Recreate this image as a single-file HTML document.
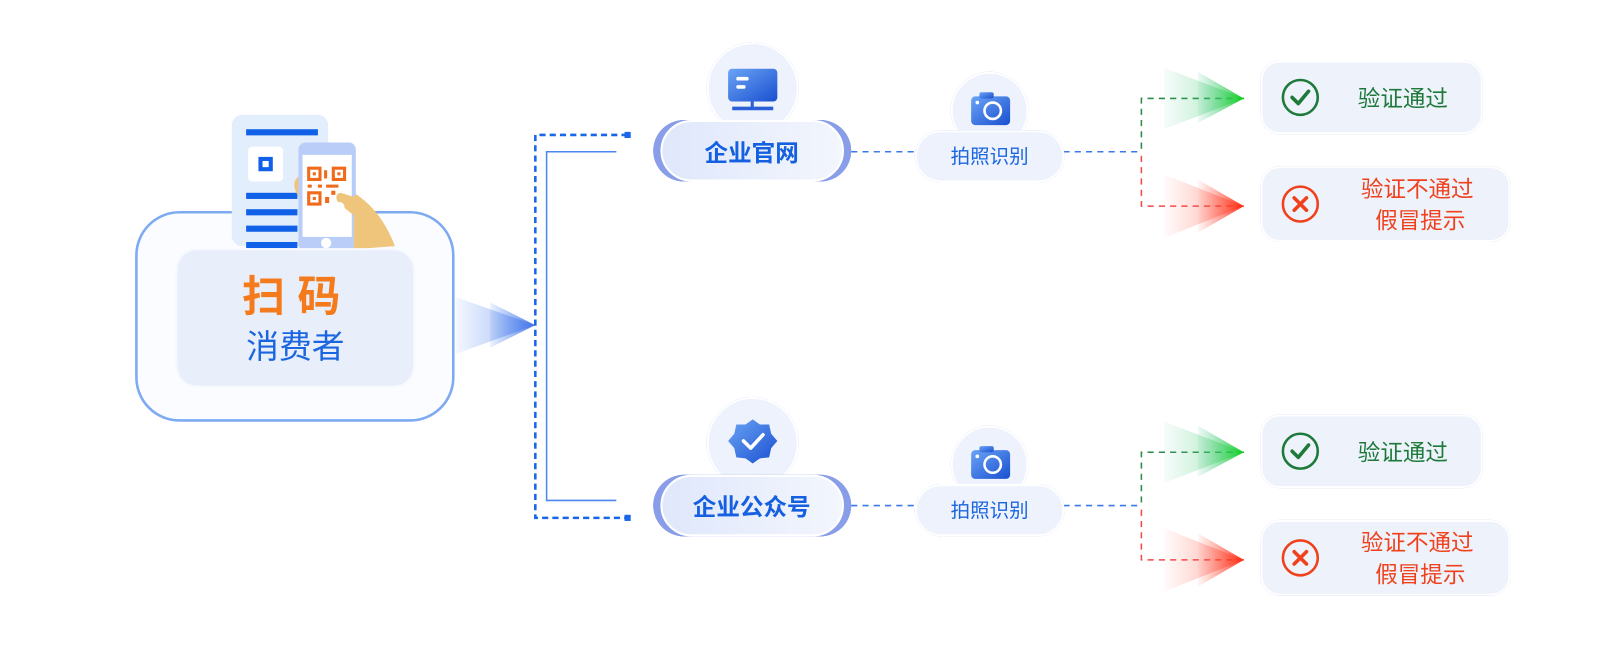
<!DOCTYPE html>
<html><head><meta charset="utf-8"><style>
html,body{margin:0;padding:0;background:#fff;}
svg{display:block;}
text{font-family:"Liberation Sans","Noto Sans CJK SC",sans-serif;}
</style></head><body>
<svg width="1608" height="664" viewBox="0 0 1568 647.5" xmlns="http://www.w3.org/2000/svg">
<defs>
<linearGradient id="gBlueArr" x1="0" x2="1"><stop offset="0" stop-color="#3d7cf0" stop-opacity="0.1"/><stop offset="1" stop-color="#3d6de8" stop-opacity="0.9"/></linearGradient>
<linearGradient id="gGreen" x1="0" x2="1"><stop offset="0" stop-color="#5ac8a0" stop-opacity="0.1"/><stop offset="1" stop-color="#10d020"/></linearGradient>
<linearGradient id="gRed" x1="0" x2="1"><stop offset="0" stop-color="#ff6a5a" stop-opacity="0.05"/><stop offset="1" stop-color="#ff2a10"/></linearGradient>
<linearGradient id="gIcon" x1="0" y1="0" x2="1" y2="1"><stop offset="0" stop-color="#6aa4f5"/><stop offset="1" stop-color="#1a4fd0"/></linearGradient>
<linearGradient id="gPill" x1="0" x2="1"><stop offset="0" stop-color="#dfe7fb"/><stop offset="1" stop-color="#f3f6fd"/></linearGradient>
<filter id="sh" x="-30%" y="-50%" width="160%" height="200%"><feGaussianBlur in="SourceAlpha" stdDeviation="8"/><feOffset dy="3"/><feComponentTransfer><feFuncA type="linear" slope="0.15"/></feComponentTransfer><feFlood flood-color="#5a7ae0"/><feComposite operator="in" in2="SourceAlpha"/><feMerge><feMergeNode/><feMergeNode in="SourceGraphic"/></feMerge></filter>
<filter id="soft" x="-30%" y="-30%" width="160%" height="160%"><feGaussianBlur stdDeviation="10"/></filter>
</defs>

<!-- left box -->
<rect x="133" y="207" width="309" height="203" rx="42" fill="#fbfcff" stroke="#7eaaf2" stroke-width="2.5"/>
<!-- doc -->
<rect x="226" y="112" width="94" height="128" rx="10" fill="#e3eefc"/>
<rect x="240" y="126" width="70" height="6" fill="#1060e8"/>
<rect x="242" y="143" width="34" height="34" rx="4" fill="#fff"/>
<rect x="252" y="153" width="14" height="14" fill="#1060e8"/><rect x="256" y="157" width="6" height="6" fill="#fff"/>
<rect x="240" y="188" width="50" height="6" fill="#1060e8"/>
<rect x="240" y="204" width="50" height="6" fill="#1060e8"/>
<rect x="240" y="220" width="50" height="6" fill="#1060e8"/>
<rect x="240" y="236" width="50" height="6" fill="#1060e8"/>
<!-- hand -->
<path d="M290 190 Q282 175 295 170 L300 200 L345 188 Q372 205 385 240 L318 245 Z" fill="#eec57a"/>
<!-- phone -->
<rect x="291" y="139" width="56" height="106" rx="7" fill="#b9cdf8"/>
<rect x="295" y="151" width="48" height="80" fill="#fff"/>
<circle cx="318" cy="237" r="5" fill="#fff"/>
<g fill="none" stroke="#f06a1a" stroke-width="3">
<rect x="301" y="164" width="11" height="11"/><rect x="325" y="164" width="11" height="11"/><rect x="301" y="188" width="11" height="11"/>
</g>
<g fill="#f06a1a"><rect x="305" y="168" width="3" height="3"/><rect x="329" y="168" width="3" height="3"/><rect x="305" y="192" width="3" height="3"/>
<rect x="316" y="166" width="3" height="8"/><rect x="300" y="180" width="4" height="3"/><rect x="310" y="180" width="4" height="3"/><rect x="318" y="180" width="12" height="3"/><rect x="323" y="186" width="4" height="4"/><rect x="317" y="192" width="4" height="6"/></g>
<path d="M330 198 Q325 190 332 188 L345 192 L345 210 Z" fill="#eec57a"/>
<circle cx="331" cy="202" r="5" fill="#fff"/>
<path d="M345 190 Q372 205 385 240 L345 242 Z" fill="#eec57a"/>
<!-- inner box -->
<rect x="172" y="243" width="232" height="134" rx="20" fill="#e9effa" stroke="#f7f9fe" stroke-width="2"/>
<text x="290" y="304" text-anchor="middle" font-size="42" font-weight="bold" fill="#f47a1c" letter-spacing="12">扫码</text>
<text x="288" y="349" text-anchor="middle" font-size="32" fill="#1a66e0">消费者</text>

<!-- big arrow -->
<polygon points="445,290 522,317 445,345" fill="url(#gBlueArr)" opacity="0.6"/>
<polygon points="478,295 522,317 478,339" fill="url(#gBlueArr)"/>

<!-- bracket -->
<path d="M612 131.6 H522 V505 H612" fill="none" stroke="#1a66e8" stroke-width="2.5" stroke-dasharray="6,4"/>
<rect x="609" y="128.6" width="6" height="6" fill="#1a66e8"/><rect x="609" y="502" width="6" height="6" fill="#1a66e8"/>
<path d="M601 148 H533 V488 H601" fill="none" stroke="#4a86ee" stroke-width="1.5"/>

<g>
<line x1="830" y1="148" x2="893" y2="148" stroke="#3a7ae8" stroke-width="1.5" stroke-dasharray="6,5"/>
<line x1="1037" y1="148" x2="1113" y2="148" stroke="#3a7ae8" stroke-width="1.5" stroke-dasharray="6,5"/>
<path d="M1213 96 H1113 V148" fill="none" stroke="#2c8a4a" stroke-width="1.5" stroke-dasharray="6,5"/>
<path d="M1213 201 H1113 V148" fill="none" stroke="#f04a4a" stroke-width="1.5" stroke-dasharray="6,5"/>
<polygon points="1135,66 1213,96 1135,126" fill="url(#gGreen)" opacity="0.5"/>
<polygon points="1168,70 1213,96 1168,120" fill="url(#gGreen)"/>
<polygon points="1135,170 1213,201 1135,232" fill="url(#gRed)" opacity="0.5"/>
<polygon points="1168,175 1213,201 1168,227" fill="url(#gRed)"/>
<circle cx="965" cy="108" r="37" fill="#eef2fc" stroke="#fff" stroke-width="2" filter="url(#sh)"/>
<rect x="947" y="94" width="38" height="28" rx="4" fill="url(#gIcon)"/>
<rect x="955" y="90" width="14" height="6" rx="2" fill="url(#gIcon)"/>
<circle cx="968" cy="108" r="8" fill="none" stroke="#fff" stroke-width="2.5"/>
<circle cx="953" cy="100" r="1.8" fill="#fff"/>
<rect x="893" y="128" width="144" height="49" rx="24.5" fill="#eef2fc" stroke="#fff" stroke-width="2" filter="url(#sh)"/>
<rect x="1230" y="60" width="215" height="70" rx="18" fill="#eef2fb" stroke="#fff" stroke-width="2" filter="url(#sh)"/>
<rect x="1230" y="163" width="242" height="72" rx="18" fill="#eef2fb" stroke="#fff" stroke-width="2" filter="url(#sh)"/>
<circle cx="1268" cy="95" r="17" fill="none" stroke="#1e7a3a" stroke-width="2.5"/>
<path d="M1260 95 L1266 101 L1276 89" fill="none" stroke="#1e7a3a" stroke-width="3.5" stroke-linecap="round" stroke-linejoin="round"/>
<circle cx="1268" cy="199" r="17" fill="none" stroke="#f0401c" stroke-width="2.5"/>
<path d="M1262 193 L1274 205 M1274 193 L1262 205" stroke="#f0401c" stroke-width="3.5" stroke-linecap="round"/>
</g>
<g transform="translate(0,345)">
<line x1="830" y1="148" x2="893" y2="148" stroke="#3a7ae8" stroke-width="1.5" stroke-dasharray="6,5"/>
<line x1="1037" y1="148" x2="1113" y2="148" stroke="#3a7ae8" stroke-width="1.5" stroke-dasharray="6,5"/>
<path d="M1213 96 H1113 V148" fill="none" stroke="#2c8a4a" stroke-width="1.5" stroke-dasharray="6,5"/>
<path d="M1213 201 H1113 V148" fill="none" stroke="#f04a4a" stroke-width="1.5" stroke-dasharray="6,5"/>
<polygon points="1135,66 1213,96 1135,126" fill="url(#gGreen)" opacity="0.5"/>
<polygon points="1168,70 1213,96 1168,120" fill="url(#gGreen)"/>
<polygon points="1135,170 1213,201 1135,232" fill="url(#gRed)" opacity="0.5"/>
<polygon points="1168,175 1213,201 1168,227" fill="url(#gRed)"/>
<circle cx="965" cy="108" r="37" fill="#eef2fc" stroke="#fff" stroke-width="2" filter="url(#sh)"/>
<rect x="947" y="94" width="38" height="28" rx="4" fill="url(#gIcon)"/>
<rect x="955" y="90" width="14" height="6" rx="2" fill="url(#gIcon)"/>
<circle cx="968" cy="108" r="8" fill="none" stroke="#fff" stroke-width="2.5"/>
<circle cx="953" cy="100" r="1.8" fill="#fff"/>
<rect x="893" y="128" width="144" height="49" rx="24.5" fill="#eef2fc" stroke="#fff" stroke-width="2" filter="url(#sh)"/>
<rect x="1230" y="60" width="215" height="70" rx="18" fill="#eef2fb" stroke="#fff" stroke-width="2" filter="url(#sh)"/>
<rect x="1230" y="163" width="242" height="72" rx="18" fill="#eef2fb" stroke="#fff" stroke-width="2" filter="url(#sh)"/>
<circle cx="1268" cy="95" r="17" fill="none" stroke="#1e7a3a" stroke-width="2.5"/>
<path d="M1260 95 L1266 101 L1276 89" fill="none" stroke="#1e7a3a" stroke-width="3.5" stroke-linecap="round" stroke-linejoin="round"/>
<circle cx="1268" cy="199" r="17" fill="none" stroke="#f0401c" stroke-width="2.5"/>
<path d="M1262 193 L1274 205 M1274 193 L1262 205" stroke="#f0401c" stroke-width="3.5" stroke-linecap="round"/>
</g>

<g font-size="19" fill="#1a66e0" text-anchor="middle">
<text x="965" y="159">拍照识别</text>
<text x="965" y="504">拍照识别</text>
</g>
<g font-size="22" text-anchor="middle">
<text x="1368" y="104" fill="#1e7a3a">验证通过</text>
<text x="1382" y="192" fill="#f0401c">验证不通过</text>
<text x="1385" y="223" fill="#f0401c">假冒提示</text>
<text x="1368" y="449" fill="#1e7a3a">验证通过</text>
<text x="1382" y="537" fill="#f0401c">验证不通过</text>
<text x="1385" y="568" fill="#f0401c">假冒提示</text>
</g>

<circle cx="734" cy="86" r="44" fill="#eef2fc" stroke="#fff" stroke-width="2" filter="url(#sh)"/>
<rect x="710" y="67" width="48" height="32" rx="4" fill="url(#gIcon)"/>
<rect x="718" y="75" width="12" height="3.5" rx="1.5" fill="#fff"/><rect x="718" y="83" width="9" height="3.5" rx="1.5" fill="#fff"/>
<rect x="732" y="99" width="3" height="6" fill="#2a5fd8"/><rect x="714" y="104" width="40" height="3.5" fill="#2a5fd8"/>
<rect x="637" y="117" width="193" height="60" rx="30" fill="#8a9de8" filter="url(#sh)"/>
<rect x="645" y="118" width="177" height="58" rx="29" fill="url(#gPill)" stroke="#fff" stroke-width="2"/>
<text x="733" y="157" text-anchor="middle" font-size="23" font-weight="bold" fill="#1460e0">企业官网</text>

<circle cx="734" cy="432" r="44" fill="#eef2fc" stroke="#fff" stroke-width="2" filter="url(#sh)"/>
<polygon points="734,409 741,414 750,414 752,423 758,430 752,437 750,446 741,447 734,452 727,447 718,446 716,437 710,430 716,423 718,414 727,414" fill="url(#gIcon)"/>
<path d="M725 430 L732 437 L744 424" fill="none" stroke="#fff" stroke-width="3.5" stroke-linecap="round" stroke-linejoin="round"/>
<rect x="637" y="463" width="193" height="60" rx="30" fill="#8a9de8" filter="url(#sh)"/>
<rect x="645" y="464" width="177" height="58" rx="29" fill="url(#gPill)" stroke="#fff" stroke-width="2"/>
<text x="733" y="502" text-anchor="middle" font-size="23" font-weight="bold" fill="#1460e0">企业公众号</text>
</svg>
</body></html>
